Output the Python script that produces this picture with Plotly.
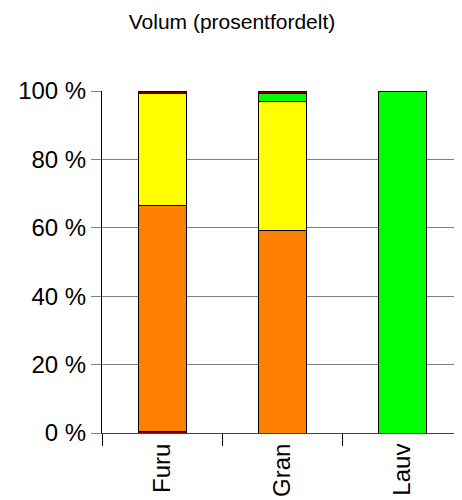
import plotly.graph_objects as go

categories = ["Furu", "Gran", "Lauv"]
series_names = ["Klasse 1", "Klasse 2", "Klasse 3", "Klasse 4", "Klasse 5"]
series_values = [
    [0.3, 0.0, 0.0],
    [66.1, 59.1, 0.0],
    [33.0, 37.8, 0.0],
    [0.0, 2.5, 100.0],
    [0.6, 0.6, 0.0],
]
series_colors = ["#800000", "#FF8000", "#FFFF00", "#00FF00", "#800000"]
y_ticks = [0, 20, 40, 60, 80, 100]
y_tick_labels = ["0 %", "20 %", "40 %", "60 %", "80 %", "100 %"]

W, H = 454, 492  # page body has an 8px margin

fig = go.Figure()
for name, vals, col in zip(series_names, series_values, series_colors):
    fig.add_trace(go.Bar(
        x=categories, y=vals, name=name,
        marker=dict(color=col, line=dict(color="black", width=1)),
    ))

fig.update_layout(
    barmode="stack",
    bargap=0.6,
    width=W, height=H,
    margin=dict(l=94, r=0, t=83, b=67, autoexpand=False),
    plot_bgcolor="white", paper_bgcolor="white",
    showlegend=False,
    font=dict(family="Liberation Sans, Arial, sans-serif", color="black"),
    title=dict(text="Volum (prosentfordelt)", x=(232 - 8) / W, xanchor="center",
               xref="container", y=1 - 14 / H, yref="container",
               yanchor="middle", font=dict(size=21)),
)
fig.update_yaxes(
    range=[0, 100], tickvals=y_ticks, ticktext=y_tick_labels,
    showgrid=True, gridcolor="#808080", gridwidth=1,
    showline=True, linecolor="black", linewidth=1,
    ticks="outside", ticklen=10, tickcolor="#808080",
    tickfont=dict(size=24), zeroline=False,
)
fig.update_xaxes(
    tickangle=-90, tickfont=dict(size=24),
    showline=True, linecolor="#404040", linewidth=1,
    ticks="outside", tickson="boundaries", ticklen=12, tickcolor="black",
)
fig.write_html("out.html")
